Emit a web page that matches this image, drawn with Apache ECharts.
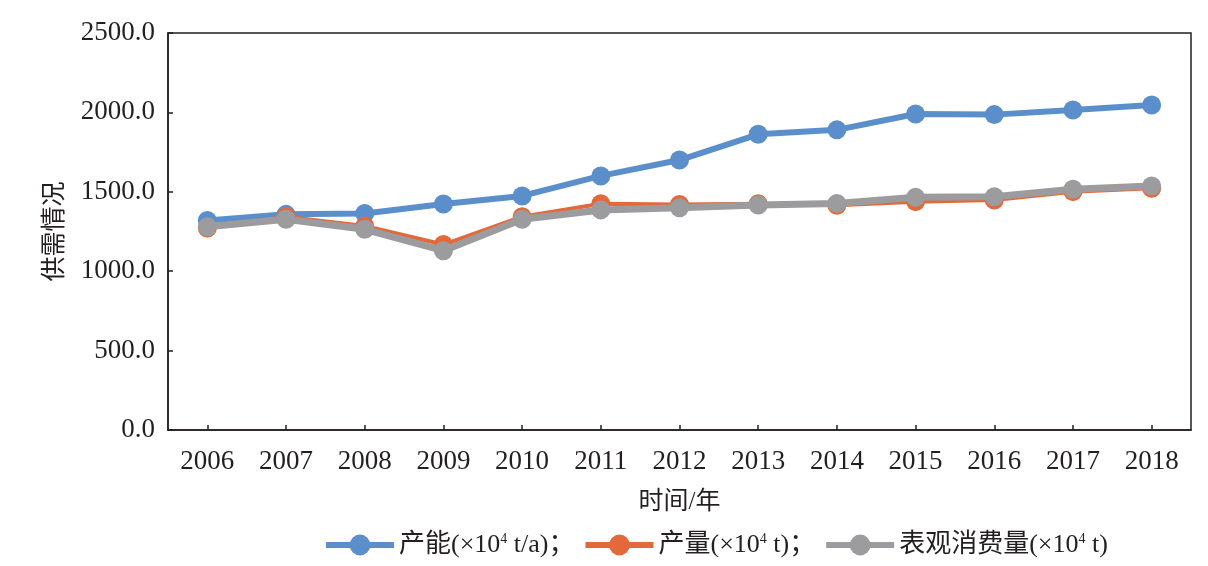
<!DOCTYPE html>
<html>
<head>
<meta charset="utf-8">
<script src="https://cdn.jsdelivr.net/npm/echarts@6/dist/echarts.min.js"></script>
<style>html,body{margin:0;padding:0;background:#fff;}#c{width:1208px;height:566px;}</style>
</head>
<body>
<div id="c"></div>
<script>
const years = ['2006','2007','2008','2009','2010','2011','2012','2013','2014','2015','2016','2017','2018'];
const capacity = [1320, 1358, 1364, 1423, 1474, 1600, 1700, 1862, 1890, 1990, 1986, 2015, 2047];
const output = [1272, 1343, 1285, 1168, 1343, 1425, 1420, 1425, 1415, 1438, 1448, 1501, 1522];
const consumption = [1280, 1327, 1264, 1129, 1327, 1386, 1400, 1417, 1427, 1465, 1469, 1516, 1537];
const seriesNames = ['产能', '产量', '表观消费量'];
const seriesUnits = ['t/a', 't', 't'];
const yTicks = [0, 500, 1000, 1500, 2000, 2500];
const colors = ['#5B8FCB', '#E4693A', '#9C9C9E'];

const serif = '"Liberation Serif", "Times New Roman", "Noto Sans CJK SC", serif';
const textColor = '#231F20';
const chart = echarts.init(document.getElementById('c'));
const datasets = [capacity, output, consumption];
const widths = [6, 4, 7];

chart.setOption({
  animation: false,
  grid: {left: 168, right: 17, top: 33, bottom: 136, show: true, borderColor: textColor, borderWidth: 1.5, backgroundColor: 'transparent'},
  legend: {
    left: 318, top: 527,
    itemWidth: 68, itemHeight: 26, itemGap: 8,
    data: seriesNames.map((n, i) => ({name: n, lineStyle: {width: 6}})),
    formatter: function (name) {
      const i = seriesNames.indexOf(name);
      return name + '(×10{sup|4} ' + seriesUnits[i] + ')' + (i < seriesNames.length - 1 ? '；' : '');
    },
    textStyle: {
      fontFamily: serif, fontSize: 26, color: textColor,
      rich: {sup: {fontFamily: serif, fontSize: 14, color: textColor, padding: [0, 0, 12, 0]}}
    }
  },
  xAxis: {
    type: 'category', data: years, boundaryGap: true,
    axisLine: {lineStyle: {color: textColor, width: 1.5}},
    axisTick: {show: true, alignWithLabel: true, inside: true, length: 5, lineStyle: {color: textColor, width: 1.5}},
    axisLabel: {fontFamily: serif, fontSize: 27, color: textColor, margin: 18},
    name: '时间/年', nameLocation: 'middle', nameGap: 60,
    nameTextStyle: {fontFamily: serif, fontSize: 25, color: textColor},
    splitLine: {show: false}
  },
  yAxis: {
    type: 'value', min: yTicks[0], max: yTicks[yTicks.length - 1], interval: yTicks[1] - yTicks[0],
    axisLine: {show: true, lineStyle: {color: textColor, width: 1.5}},
    axisTick: {show: true, inside: true, length: 5, lineStyle: {color: textColor, width: 1.5}},
    axisLabel: {fontFamily: serif, fontSize: 27, color: textColor, margin: 13, formatter: v => v.toFixed(1)},
    name: '供需情况', nameLocation: 'middle', nameGap: 100, nameRotate: 90,
    nameTextStyle: {fontFamily: serif, fontSize: 25, color: textColor},
    splitLine: {show: false}
  },
  series: seriesNames.map((n, i) => ({
    name: n, type: 'line', data: datasets[i],
    symbol: 'circle', symbolSize: 19,
    lineStyle: {color: colors[i], width: widths[i]},
    itemStyle: {color: colors[i]},
    z: 2 + i
  }))
});
</script>
</body>
</html>
